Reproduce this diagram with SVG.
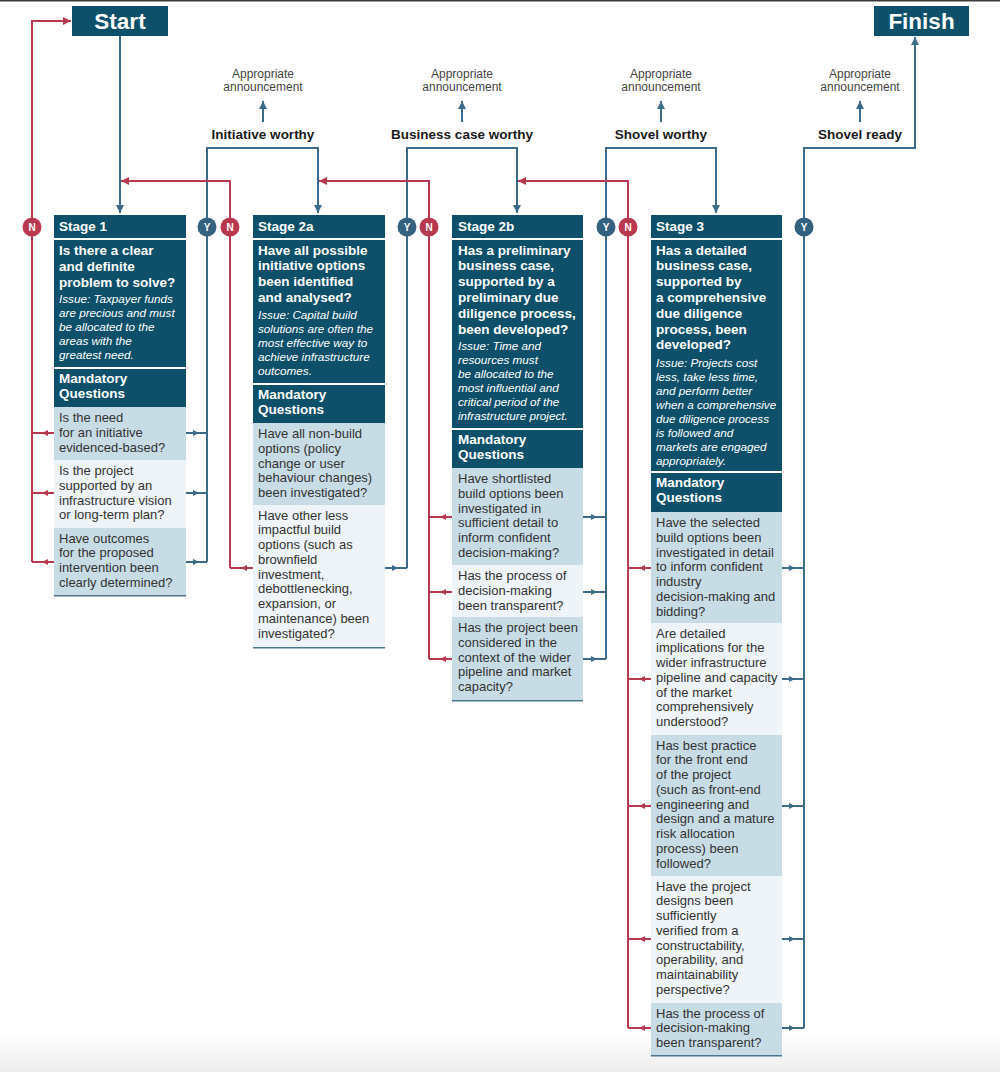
<svg xmlns="http://www.w3.org/2000/svg" width="1000" height="1072" viewBox="0 0 1000 1072">
<style>
text{font-family:"Liberation Sans",Arial,sans-serif}
.hd{fill:#0e5069}
.lq{fill:#c8dce5}
.vq{fill:#eef4f7}
.bt{fill:#4a7690}
.th{font-size:13.5px;font-weight:bold;fill:#fff}
.ti{font-size:11.7px;font-style:italic;fill:#fff}
.tr{font-size:13px;fill:#333}
.big{font-size:22.5px;font-weight:bold;fill:#fff}
.lab{font-size:13.5px;font-weight:bold;fill:#1a1a1a}
.ann{font-size:12px;fill:#444}
.cl{font-size:10px;font-weight:bold;fill:#fff}
.b{fill:none;stroke:#3c6b8a;stroke-width:2}
.r{fill:none;stroke:#b8394f;stroke-width:2}
.bm{marker-mid:url(#mb)}
.rm{marker-mid:url(#mr)}
.be{marker-end:url(#eb)}
.re{marker-end:url(#er)}
.yc{fill:#33617f}
.nc{fill:#b8394f}
</style>
<defs>
<marker id="mb" viewBox="0 0 6 6" refX="3" refY="3" markerWidth="6" markerHeight="6" markerUnits="userSpaceOnUse" orient="auto"><path d="M0,0 L6,3 L0,6 z" fill="#3c6b8a"/></marker>
<marker id="mr" viewBox="0 0 6 6" refX="3" refY="3" markerWidth="6" markerHeight="6" markerUnits="userSpaceOnUse" orient="auto"><path d="M0,0 L6,3 L0,6 z" fill="#b8394f"/></marker>
<marker id="eb" viewBox="0 0 8 8" refX="8" refY="4" markerWidth="8" markerHeight="8" markerUnits="userSpaceOnUse" orient="auto"><path d="M0,0 L8,4 L0,8 z" fill="#3c6b8a"/></marker>
<marker id="er" viewBox="0 0 8 8" refX="8" refY="4" markerWidth="8" markerHeight="8" markerUnits="userSpaceOnUse" orient="auto"><path d="M0,0 L8,4 L0,8 z" fill="#b8394f"/></marker>
<linearGradient id="fade" x1="0" y1="0" x2="0" y2="1"><stop offset="0" stop-color="#ffffff"/><stop offset="1" stop-color="#ededed"/></linearGradient>
</defs>
<rect x="0" y="0" width="1000" height="1072" fill="#fff"/>
<rect x="0" y="1035" width="1000" height="37" fill="url(#fade)"/>
<rect x="0" y="0" width="1000" height="1.5" fill="#3a3a3a"/>

<g id="connectors">
<path class="b be" d="M120,36 V213"/>
<path class="r re" d="M32,562 V21 H71"/>
<path class="b be" d="M207,562 V148 H318 V213"/>
<path class="r re" d="M230,568 V181 H121"/>
<path class="b be" d="M407,568 V148 H517 V213"/>
<path class="r re" d="M429,659 V181 H319"/>
<path class="b be" d="M606,659 V148 H716 V213"/>
<path class="r re" d="M628,1028 V181 H518"/>
<path class="b be" d="M804,1028 V148 H915 V37"/>
<path class="b be" d="M263,122 V101"/>
<path class="b be" d="M462,122 V101"/>
<path class="b be" d="M661,122 V101"/>
<path class="b be" d="M860,122 V101"/>
<!-- stage 1 question arrows -->
<path class="b bm" d="M186,433 H196 H207"/>
<path class="b bm" d="M186,493 H196 H207"/>
<path class="b bm" d="M186,562 H196 H207"/>
<path class="r rm" d="M54,433 H45 H32"/>
<path class="r rm" d="M54,493 H45 H32"/>
<path class="r rm" d="M54,562 H45 H32"/>
<!-- stage 2a -->
<path class="b bm" d="M385,568 H395 H407"/>
<path class="r rm" d="M253,568 H244 H230"/>
<!-- stage 2b -->
<path class="b bm" d="M583,517 H594 H606"/>
<path class="b bm" d="M583,592 H594 H606"/>
<path class="b bm" d="M583,659 H594 H606"/>
<path class="r rm" d="M452,517 H443 H429"/>
<path class="r rm" d="M452,592 H443 H429"/>
<path class="r rm" d="M452,659 H443 H429"/>
<!-- stage 3 -->
<path class="b bm" d="M782,568 H792 H804"/>
<path class="b bm" d="M782,679 H792 H804"/>
<path class="b bm" d="M782,806 H792 H804"/>
<path class="b bm" d="M782,939 H792 H804"/>
<path class="b bm" d="M782,1028 H792 H804"/>
<path class="r rm" d="M651,568 H642 H628"/>
<path class="r rm" d="M651,679 H642 H628"/>
<path class="r rm" d="M651,806 H642 H628"/>
<path class="r rm" d="M651,939 H642 H628"/>
<path class="r rm" d="M651,1028 H642 H628"/>
<!-- Y / N badges -->
<circle class="nc" cx="32" cy="227" r="9.5"/><text class="cl" x="32" y="230.5" text-anchor="middle">N</text>
<circle class="yc" cx="207" cy="227" r="9.5"/><text class="cl" x="207" y="230.5" text-anchor="middle">Y</text>
<circle class="nc" cx="230" cy="227" r="9.5"/><text class="cl" x="230" y="230.5" text-anchor="middle">N</text>
<circle class="yc" cx="407" cy="227" r="9.5"/><text class="cl" x="407" y="230.5" text-anchor="middle">Y</text>
<circle class="nc" cx="429" cy="227" r="9.5"/><text class="cl" x="429" y="230.5" text-anchor="middle">N</text>
<circle class="yc" cx="606" cy="227" r="9.5"/><text class="cl" x="606" y="230.5" text-anchor="middle">Y</text>
<circle class="nc" cx="628" cy="227" r="9.5"/><text class="cl" x="628" y="230.5" text-anchor="middle">N</text>
<circle class="yc" cx="804" cy="227" r="9.5"/><text class="cl" x="804" y="230.5" text-anchor="middle">Y</text>
</g>

<g id="start">
<rect class="hd" x="72" y="6" width="96" height="30"/>
<text class="big" x="120" y="29" text-anchor="middle">Start</text>
</g>
<g id="finish">
<rect class="hd" x="874" y="6" width="95" height="30"/>
<text class="big" x="921.5" y="29" text-anchor="middle">Finish</text>
</g>

<g id="milestone-initiative">
<text class="ann" x="263" y="78" text-anchor="middle">Appropriate</text>
<text class="ann" x="263" y="91" text-anchor="middle">announcement</text>
<text class="lab" x="263" y="139" text-anchor="middle">Initiative worthy</text>
</g>
<g id="milestone-business">
<text class="ann" x="462" y="78" text-anchor="middle">Appropriate</text>
<text class="ann" x="462" y="91" text-anchor="middle">announcement</text>
<text class="lab" x="462" y="139" text-anchor="middle">Business case worthy</text>
</g>
<g id="milestone-shovel-worthy">
<text class="ann" x="661" y="78" text-anchor="middle">Appropriate</text>
<text class="ann" x="661" y="91" text-anchor="middle">announcement</text>
<text class="lab" x="661" y="139" text-anchor="middle">Shovel worthy</text>
</g>
<g id="milestone-shovel-ready">
<text class="ann" x="860" y="78" text-anchor="middle">Appropriate</text>
<text class="ann" x="860" y="91" text-anchor="middle">announcement</text>
<text class="lab" x="860" y="139" text-anchor="middle">Shovel ready</text>
</g>

<g id="stage1">
<rect class="hd" x="54" y="215" width="132" height="23"/>
<rect class="hd" x="54" y="240" width="132" height="127"/>
<rect class="hd" x="54" y="369" width="132" height="38"/>
<rect class="lq" x="54" y="407" width="132" height="53"/>
<rect class="vq" x="54" y="460" width="132" height="68"/>
<rect class="lq" x="54" y="528" width="132" height="67"/>
<rect class="bt" x="54" y="595" width="132" height="1.5"/>
<text class="th" x="59" y="231">Stage 1</text>
<text class="th"><tspan x="59" y="255">Is there a clear</tspan><tspan x="59" y="271">and definite</tspan><tspan x="59" y="287">problem to solve?</tspan></text>
<text class="ti"><tspan x="59" y="303">Issue: Taxpayer funds</tspan><tspan x="59" y="317">are precious and must</tspan><tspan x="59" y="331">be allocated to the</tspan><tspan x="59" y="345">areas with the</tspan><tspan x="59" y="359">greatest need.</tspan></text>
<text class="th"><tspan x="59" y="383">Mandatory</tspan><tspan x="59" y="398">Questions</tspan></text>
<text class="tr"><tspan x="59" y="422">Is the need</tspan><tspan x="59" y="436.75">for an initiative</tspan><tspan x="59" y="451.5">evidenced-based?</tspan></text>
<text class="tr"><tspan x="59" y="475">Is the project</tspan><tspan x="59" y="489.75">supported by an</tspan><tspan x="59" y="504.5">infrastructure vision</tspan><tspan x="59" y="519.25">or long-term plan?</tspan></text>
<text class="tr"><tspan x="59" y="542.5">Have outcomes</tspan><tspan x="59" y="557.25">for the proposed</tspan><tspan x="59" y="572">intervention been</tspan><tspan x="59" y="586.75">clearly determined?</tspan></text>
</g>

<g id="stage2a">
<rect class="hd" x="253" y="215" width="132" height="23"/>
<rect class="hd" x="253" y="240" width="132" height="143"/>
<rect class="hd" x="253" y="385" width="132" height="38"/>
<rect class="lq" x="253" y="423" width="132" height="82"/>
<rect class="vq" x="253" y="505" width="132" height="142"/>
<rect class="bt" x="253" y="647" width="132" height="1.5"/>
<text class="th" x="258" y="231">Stage 2a</text>
<text class="th"><tspan x="258" y="254.5">Have all possible</tspan><tspan x="258" y="270.3">initiative options</tspan><tspan x="258" y="286.1">been identified</tspan><tspan x="258" y="301.9">and analysed?</tspan></text>
<text class="ti"><tspan x="258" y="319">Issue: Capital build</tspan><tspan x="258" y="333">solutions are often the</tspan><tspan x="258" y="347">most effective way to</tspan><tspan x="258" y="361">achieve infrastructure</tspan><tspan x="258" y="375">outcomes.</tspan></text>
<text class="th"><tspan x="258" y="398.5">Mandatory</tspan><tspan x="258" y="413.5">Questions</tspan></text>
<text class="tr"><tspan x="258" y="438">Have all non-build</tspan><tspan x="258" y="452.75">options (policy</tspan><tspan x="258" y="467.5">change or user</tspan><tspan x="258" y="482.25">behaviour changes)</tspan><tspan x="258" y="497">been investigated?</tspan></text>
<text class="tr"><tspan x="258" y="519.5">Have other less</tspan><tspan x="258" y="534.25">impactful build</tspan><tspan x="258" y="549">options (such as</tspan><tspan x="258" y="563.75">brownfield</tspan><tspan x="258" y="578.5">investment,</tspan><tspan x="258" y="593.25">debottlenecking,</tspan><tspan x="258" y="608">expansion, or</tspan><tspan x="258" y="622.75">maintenance) been</tspan><tspan x="258" y="637.5">investigated?</tspan></text>
</g>

<g id="stage2b">
<rect class="hd" x="452" y="215" width="131" height="23"/>
<rect class="hd" x="452" y="240" width="131" height="188"/>
<rect class="hd" x="452" y="430" width="131" height="38"/>
<rect class="lq" x="452" y="468" width="131" height="97"/>
<rect class="vq" x="452" y="565" width="131" height="52"/>
<rect class="lq" x="452" y="617" width="131" height="83"/>
<rect class="bt" x="452" y="700" width="131" height="1.5"/>
<text class="th" x="458" y="231">Stage 2b</text>
<text class="th"><tspan x="458" y="254.5">Has a preliminary</tspan><tspan x="458" y="270.3">business case,</tspan><tspan x="458" y="286.1">supported by a</tspan><tspan x="458" y="301.9">preliminary due</tspan><tspan x="458" y="317.7">diligence process,</tspan><tspan x="458" y="333.5">been developed?</tspan></text>
<text class="ti"><tspan x="458" y="350">Issue: Time and</tspan><tspan x="458" y="364">resources must</tspan><tspan x="458" y="378">be allocated to the</tspan><tspan x="458" y="392">most influential and</tspan><tspan x="458" y="406">critical period of the</tspan><tspan x="458" y="420">infrastructure project.</tspan></text>
<text class="th"><tspan x="458" y="443.5">Mandatory</tspan><tspan x="458" y="458.5">Questions</tspan></text>
<text class="tr"><tspan x="458" y="483">Have shortlisted</tspan><tspan x="458" y="497.75">build options been</tspan><tspan x="458" y="512.5">investigated in</tspan><tspan x="458" y="527.25">sufficient detail to</tspan><tspan x="458" y="542">inform confident</tspan><tspan x="458" y="556.75">decision-making?</tspan></text>
<text class="tr"><tspan x="458" y="580">Has the process of</tspan><tspan x="458" y="594.75">decision-making</tspan><tspan x="458" y="609.5">been transparent?</tspan></text>
<text class="tr"><tspan x="458" y="632">Has the project been</tspan><tspan x="458" y="646.75">considered in the</tspan><tspan x="458" y="661.5">context of the wider</tspan><tspan x="458" y="676.25">pipeline and market</tspan><tspan x="458" y="691">capacity?</tspan></text>
</g>

<g id="stage3">
<rect class="hd" x="651" y="215" width="131" height="23"/>
<rect class="hd" x="651" y="240" width="131" height="231"/>
<rect class="hd" x="651" y="473" width="131" height="39"/>
<rect class="lq" x="651" y="512" width="131" height="111"/>
<rect class="vq" x="651" y="623" width="131" height="112"/>
<rect class="lq" x="651" y="735" width="131" height="141"/>
<rect class="vq" x="651" y="876" width="131" height="127"/>
<rect class="lq" x="651" y="1003" width="131" height="52"/>
<rect class="bt" x="651" y="1055" width="131" height="1.5"/>
<text class="th" x="656" y="231">Stage 3</text>
<text class="th"><tspan x="656" y="254.5">Has a detailed</tspan><tspan x="656" y="270.3">business case,</tspan><tspan x="656" y="286.1">supported by</tspan><tspan x="656" y="301.9">a comprehensive</tspan><tspan x="656" y="317.7">due diligence</tspan><tspan x="656" y="333.5">process, been</tspan><tspan x="656" y="349.3">developed?</tspan></text>
<text class="ti"><tspan x="656" y="367">Issue: Projects cost</tspan><tspan x="656" y="381">less, take less time,</tspan><tspan x="656" y="395">and perform better</tspan><tspan x="656" y="409">when a comprehensive</tspan><tspan x="656" y="423">due diligence process</tspan><tspan x="656" y="437">is followed and</tspan><tspan x="656" y="451">markets are engaged</tspan><tspan x="656" y="465">appropriately.</tspan></text>
<text class="th"><tspan x="656" y="487">Mandatory</tspan><tspan x="656" y="502">Questions</tspan></text>
<text class="tr"><tspan x="656" y="527">Have the selected</tspan><tspan x="656" y="541.75">build options been</tspan><tspan x="656" y="556.5">investigated in detail</tspan><tspan x="656" y="571.25">to inform confident</tspan><tspan x="656" y="586">industry</tspan><tspan x="656" y="600.75">decision-making and</tspan><tspan x="656" y="615.5">bidding?</tspan></text>
<text class="tr"><tspan x="656" y="637.5">Are detailed</tspan><tspan x="656" y="652.25">implications for the</tspan><tspan x="656" y="667">wider infrastructure</tspan><tspan x="656" y="681.75">pipeline and capacity</tspan><tspan x="656" y="696.5">of the market</tspan><tspan x="656" y="711.25">comprehensively</tspan><tspan x="656" y="726">understood?</tspan></text>
<text class="tr"><tspan x="656" y="749.5">Has best practice</tspan><tspan x="656" y="764.25">for the front end</tspan><tspan x="656" y="779">of the project</tspan><tspan x="656" y="793.75">(such as front-end</tspan><tspan x="656" y="808.5">engineering and</tspan><tspan x="656" y="823.25">design and a mature</tspan><tspan x="656" y="838">risk allocation</tspan><tspan x="656" y="852.75">process) been</tspan><tspan x="656" y="867.5">followed?</tspan></text>
<text class="tr"><tspan x="656" y="890.5">Have the project</tspan><tspan x="656" y="905.25">designs been</tspan><tspan x="656" y="920">sufficiently</tspan><tspan x="656" y="934.75">verified from a</tspan><tspan x="656" y="949.5">constructability,</tspan><tspan x="656" y="964.25">operability, and</tspan><tspan x="656" y="979">maintainability</tspan><tspan x="656" y="993.75">perspective?</tspan></text>
<text class="tr"><tspan x="656" y="1017.5">Has the process of</tspan><tspan x="656" y="1032.25">decision-making</tspan><tspan x="656" y="1047">been transparent?</tspan></text>
</g>
</svg>
